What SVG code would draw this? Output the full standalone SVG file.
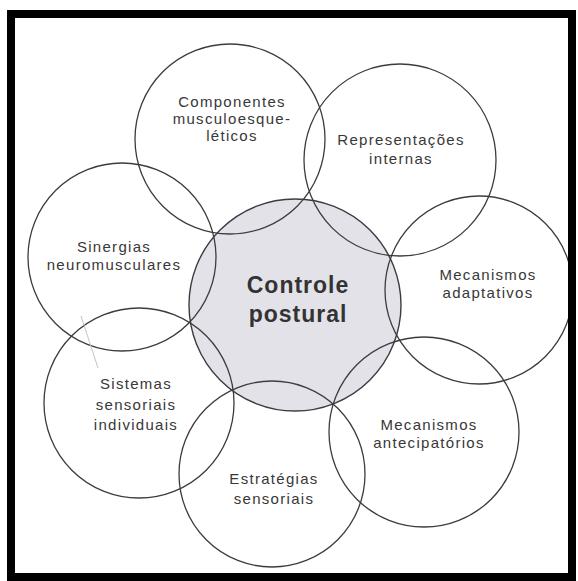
<svg xmlns="http://www.w3.org/2000/svg" width="578" height="581" viewBox="0 0 578 581">
  <style>
    .ring { fill: none; stroke: #3c3c40; stroke-width: 1.3; }
    .core { fill: #e3e2e8; stroke: #3c3c40; stroke-width: 1.4; }
    .lbl { font-family: "Liberation Sans", Arial, sans-serif; font-size: 15px; letter-spacing: 1.3px; fill: #383838; text-anchor: middle; }
    .main { font-family: "Liberation Sans", Arial, sans-serif; font-size: 23px; font-weight: bold; letter-spacing: 1px; fill: #333333; text-anchor: middle; }
  </style>
  <rect x="0" y="0" width="578" height="581" fill="#ffffff"/>

  <g id="controle-postural">
    <circle class="core" cx="295" cy="305" r="106"/>
    <text class="main" x="298" y="293">Controle</text>
    <text class="main" x="298" y="322">postural</text>
  </g>

  <g id="componentes">
    <circle class="ring" cx="230" cy="139" r="95"/>
    <text class="lbl" x="232" y="107">Componentes</text>
    <text class="lbl" x="232" y="124">musculoesque-</text>
    <text class="lbl" x="232" y="141">léticos</text>
  </g>

  <g id="representacoes">
    <circle class="ring" cx="400" cy="160" r="96"/>
    <text class="lbl" x="401" y="145">Representações</text>
    <text class="lbl" x="401" y="164">internas</text>
  </g>

  <g id="sinergias">
    <circle class="ring" cx="122" cy="257" r="94"/>
    <text class="lbl" x="114" y="252">Sinergias</text>
    <text class="lbl" x="114" y="270">neuromusculares</text>
  </g>

  <g id="mecanismos-adaptativos">
    <circle class="ring" cx="479" cy="290" r="94"/>
    <text class="lbl" x="488" y="280">Mecanismos</text>
    <text class="lbl" x="488" y="298">adaptativos</text>
  </g>

  <g id="sistemas-sensoriais">
    <circle class="ring" cx="139" cy="403" r="95"/>
    <text class="lbl" x="136" y="389">Sistemas</text>
    <text class="lbl" x="136" y="410">sensoriais</text>
    <text class="lbl" x="136" y="430">individuais</text>
  </g>

  <g id="mecanismos-antecipatorios">
    <circle class="ring" cx="424" cy="432" r="95"/>
    <text class="lbl" x="429" y="430">Mecanismos</text>
    <text class="lbl" x="429" y="448">antecipatórios</text>
  </g>

  <g id="estrategias">
    <circle class="ring" cx="272" cy="474" r="93"/>
    <text class="lbl" x="274" y="484">Estratégias</text>
    <text class="lbl" x="274" y="504">sensoriais</text>
  </g>

  <line x1="81" y1="316" x2="98" y2="368" stroke="#c4c4c4" stroke-width="1"/>

  <rect x="11" y="14" width="561" height="563" fill="none" stroke="#000000" stroke-width="8"/>
</svg>
